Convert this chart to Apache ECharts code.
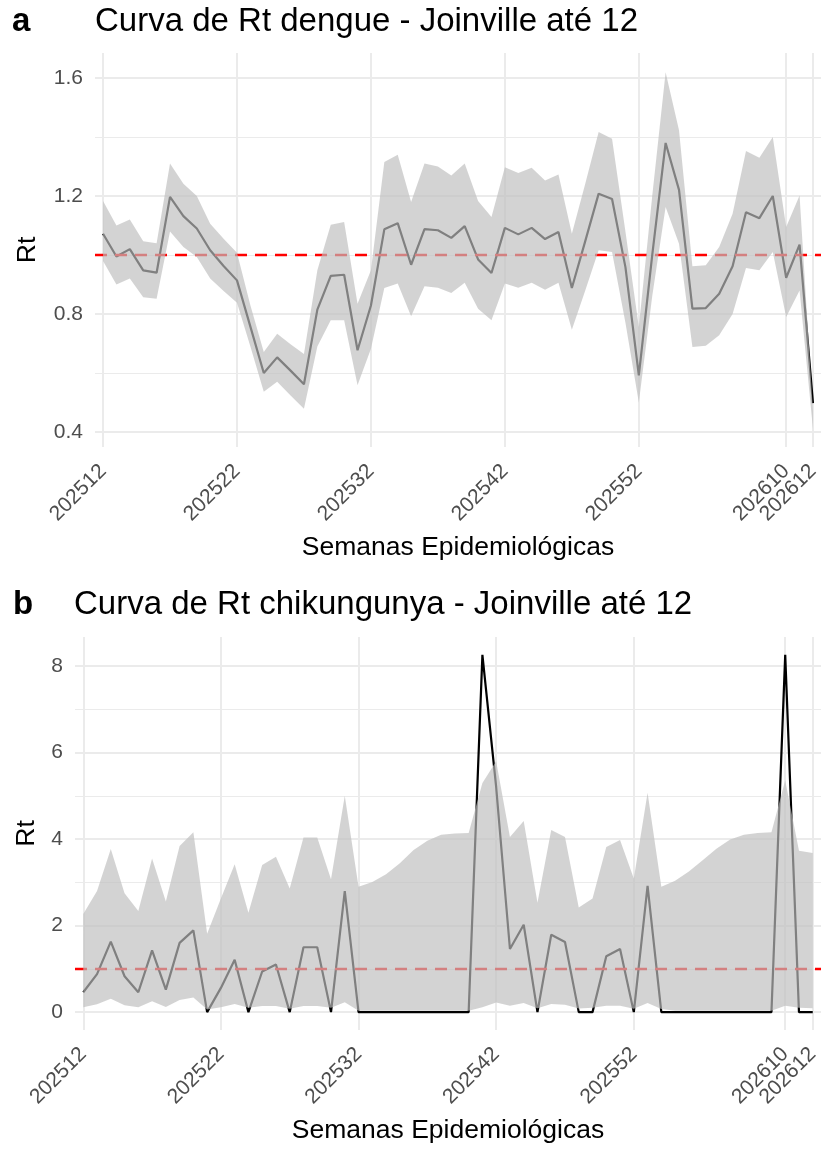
<!DOCTYPE html>
<html>
<head>
<meta charset="utf-8">
<script src="https://cdn.jsdelivr.net/npm/echarts@6/dist/echarts.min.js"></script>
<style>
  html, body { margin: 0; padding: 0; background: #fff; }
  #chart { width: 828px; height: 1149px; }
</style>
</head>
<body>
<div id="chart"></div>
<script>
// semanas epidemiológicas (eixo x)
const weeks = [
  '202512', '202513', '202514', '202515', '202516', '202517', '202518', '202519', '202520', '202521',
  '202522', '202523', '202524', '202525', '202526', '202527', '202528', '202529', '202530', '202531',
  '202532', '202533', '202534', '202535', '202536', '202537', '202538', '202539', '202540', '202541',
  '202542', '202543', '202544', '202545', '202546', '202547', '202548', '202549', '202550', '202551',
  '202552', '202553', '202601', '202602', '202603', '202604', '202605', '202606', '202607', '202608',
  '202609', '202610', '202611', '202612'
];
const tickWeeks = ['202512', '202522', '202532', '202542', '202552', '202610', '202612'];
// rótulo que se sobrepõe ao último; vai num eixo à parte para não ser escondido
const crowdedWeek = '202610';

// dengue
const dengueRt = [
  1.072, 0.995, 1.02, 0.948, 0.94, 1.197, 1.132, 1.09, 1.016, 0.963,
  0.914, 0.757, 0.60, 0.653, 0.608, 0.562, 0.815, 0.929, 0.933, 0.677,
  0.829, 1.087, 1.108, 0.967, 1.088, 1.084, 1.058, 1.098, 0.985, 0.939,
  1.092, 1.07, 1.092, 1.054, 1.078, 0.888, 1.047, 1.208, 1.19, 0.959,
  0.592, 1.0, 1.38, 1.221, 0.818, 0.82, 0.869, 0.962, 1.145, 1.125,
  1.20, 0.923, 1.035, 0.498
];
const dengueLower = [
  0.98, 0.90, 0.92, 0.857, 0.852, 1.08, 1.027, 0.993, 0.92, 0.878,
  0.838, 0.69, 0.536, 0.57, 0.524, 0.479, 0.69, 0.779, 0.779, 0.558,
  0.682, 0.888, 0.903, 0.792, 0.894, 0.889, 0.871, 0.906, 0.818, 0.779,
  0.903, 0.889, 0.906, 0.882, 0.906, 0.747, 0.88, 1.016, 1.01, 0.77,
  0.50, 0.86, 1.163, 1.038, 0.688, 0.692, 0.728, 0.80, 0.956, 0.948,
  1.01, 0.79, 0.88, 0.41
];
const dengueUpper = [
  1.183, 1.10, 1.12, 1.047, 1.04, 1.31, 1.242, 1.20, 1.106, 1.055,
  1.008, 0.83, 0.671, 0.733, 0.697, 0.664, 0.948, 1.103, 1.112, 0.835,
  0.948, 1.315, 1.34, 1.18, 1.31, 1.30, 1.27, 1.31, 1.183, 1.129,
  1.298, 1.278, 1.296, 1.253, 1.273, 1.072, 1.242, 1.417, 1.394, 1.08,
  0.756, 1.20, 1.62, 1.423, 0.962, 0.965, 1.027, 1.14, 1.353, 1.33,
  1.40, 1.095, 1.202, 0.47
];

// chikungunya
const chikRt = [
  0.46, 0.88, 1.63, 0.83, 0.46, 1.43, 0.52, 1.60, 1.89, 0,
  0.56, 1.21, 0, 0.94, 1.10, 0, 1.50, 1.50, 0, 2.80,
  0, 0, 0, 0, 0, 0, 0, 0, 0, 8.26,
  5.2, 1.46, 2.02, 0, 1.79, 1.62, 0, 0, 1.29, 1.46,
  0, 2.92, 0, 0, 0, 0, 0, 0, 0, 0,
  0, 8.26, 0, 0
];
const chikLower = [
  0.115, 0.18, 0.31, 0.16, 0.115, 0.25, 0.12, 0.28, 0.34, 0.06,
  0.115, 0.19, 0.10, 0.14, 0.14, 0.08, 0.14, 0.14, 0.10, 0.23,
  0.03, 0.03, 0.03, 0.03, 0.03, 0.03, 0.03, 0.03, 0.03, 0.115,
  0.22, 0.15, 0.21, 0.09, 0.19, 0.17, 0.085, 0.10, 0.15, 0.15,
  0.08, 0.21, 0.07, 0.03, 0.03, 0.03, 0.03, 0.03, 0.03, 0.03,
  0.03, 0.15, 0.10, 0.09
];
const chikUpper = [
  2.27, 2.80, 3.77, 2.75, 2.34, 3.55, 2.56, 3.84, 4.16, 1.81,
  2.63, 3.42, 2.30, 3.40, 3.59, 2.86, 4.04, 4.04, 3.07, 5.0,
  2.90, 3.01, 3.19, 3.44, 3.75, 3.96, 4.10, 4.13, 4.14, 5.3,
  5.8, 4.05, 4.42, 2.53, 4.21, 4.05, 2.42, 2.63, 3.82, 3.98,
  3.09, 5.07, 2.90, 3.04, 3.25, 3.51, 3.78, 3.99, 4.10, 4.14,
  4.16, 5.36, 3.73, 3.68
];

const FONT = '"Liberation Sans", Arial, Helvetica, sans-serif';
const GRID_COLOR = '#ebebeb';
const RIBBON = 'rgba(190,190,190,0.675)';
const tickIdx = tickWeeks.map(w => weeks.indexOf(w));
const crowdedIdx = [weeks.indexOf(crowdedWeek)];
const mainLabelIdx = tickIdx.filter(i => i !== crowdedIdx[0]);

const pairs = arr => arr.map((v, i) => [i, v]);

const panels = [
  {
    tag: 'a', title: 'Curva de Rt dengue - Joinville até 12',
    rt: dengueRt, lo: dengueLower, hi: dengueUpper,
    grid: { left: 95, right: 7, top: 53, height: 394 },
    yMin: 0.349, yMax: 1.685,
    major: [0.4, 0.8, 1.2, 1.6], minor: [0.6, 1.0, 1.4],
    fmt: v => v.toFixed(1), yNameGap: 54, titleTop: 5, tagLeft: 12, titleLeft: 95
  },
  {
    tag: 'b', title: 'Curva de Rt chikungunya - Joinville até 12',
    rt: chikRt, lo: chikLower, hi: chikUpper,
    grid: { left: 75, right: 7, top: 637, height: 393 },
    yMin: -0.413, yMax: 8.673,
    major: [0, 2, 4, 6, 8], minor: [1, 3, 5, 7],
    fmt: v => String(v), yNameGap: 34, titleTop: 588, tagLeft: 13, titleLeft: 74
  }
];

const tickLabel = values => ({
  customValues: values,
  formatter: v => weeks[Math.round(v)],
  rotate: 45, margin: 21, hideOverlap: false,
  color: '#4d4d4d', fontSize: 21, fontFamily: FONT
});

const option = {
  animation: false,
  backgroundColor: '#ffffff',
  grid: [], xAxis: [], yAxis: [], series: [], graphic: []
};

panels.forEach((p, g) => {
  option.grid.push(p.grid);

  option.xAxis.push({
    type: 'value', gridIndex: g, position: 'bottom',
    min: -0.6, max: weeks.length - 1 + 0.6,
    axisLine: { show: false },
    axisTick: { show: false, customValues: tickIdx },
    axisLabel: tickLabel(mainLabelIdx),
    splitLine: { show: true, lineStyle: { color: GRID_COLOR, width: 2 } },
    name: 'Semanas Epidemiológicas', nameLocation: 'middle', nameGap: 87,
    nameTextStyle: { color: '#000', fontSize: 26.5, fontFamily: FONT }
  });
  option.xAxis.push({
    type: 'value', gridIndex: g, position: 'bottom',
    min: -0.6, max: weeks.length - 1 + 0.6,
    axisLine: { show: false },
    axisTick: { show: false, customValues: crowdedIdx },
    axisLabel: tickLabel(crowdedIdx),
    splitLine: { show: false }
  });

  // eixo principal
  option.yAxis.push({
    type: 'value', gridIndex: g, min: p.yMin, max: p.yMax,
    axisLine: { show: false },
    axisTick: { show: false, customValues: p.major },
    axisLabel: {
      customValues: p.major, formatter: p.fmt, margin: 12,
      color: '#4d4d4d', fontSize: 21, fontFamily: FONT
    },
    splitLine: { show: true, lineStyle: { color: GRID_COLOR, width: 2 } },
    name: 'Rt', nameLocation: 'middle', nameGap: p.yNameGap, nameRotate: 90,
    nameTextStyle: { color: '#000', fontSize: 26.5, fontFamily: FONT }
  });
  // linhas menores
  option.yAxis.push({
    type: 'value', gridIndex: g, min: p.yMin, max: p.yMax, position: 'left',
    axisLine: { show: false },
    axisTick: { show: false, customValues: p.minor },
    axisLabel: { show: false },
    splitLine: { show: true, lineStyle: { color: GRID_COLOR, width: 1 } }
  });

  const xi = g * 2;
  const yi = g * 2;
  option.series.push({
    type: 'line', xAxisIndex: xi, yAxisIndex: yi, z: 2,
    data: pairs(p.rt), symbol: 'none', silent: true,
    lineStyle: { color: '#000000', width: 2.2 },
    markLine: {
      silent: true, symbol: ['none', 'none'], label: { show: false },
      lineStyle: { color: '#ff0000', type: [12, 8], width: 2.4 },
      emphasis: { disabled: true },
      data: [{ yAxis: 1 }]
    }
  });
  // faixa do intervalo (desenhada por cima da linha)
  option.series.push({
    type: 'custom', xAxisIndex: xi, yAxisIndex: yi, z: 10, silent: true,
    data: p.hi.map((v, i) => [i, p.lo[i], v]),
    encode: { x: 0, y: [1, 2] },
    renderItem: (params, api) => {
      if (params.dataIndex !== 0) return null;
      const top = p.hi.map((v, i) => api.coord([i, v]));
      const bottom = p.lo.map((v, i) => api.coord([i, v])).reverse();
      return {
        type: 'polygon',
        shape: { points: top.concat(bottom) },
        style: { fill: RIBBON }
      };
    }
  });

  option.graphic.push({
    type: 'text', left: p.tagLeft, top: p.titleTop,
    style: { text: p.tag, font: 'bold 33px ' + FONT, fill: '#000' }
  });
  option.graphic.push({
    type: 'text', left: p.titleLeft, top: p.titleTop,
    style: { text: p.title, font: '33px ' + FONT, fill: '#000' }
  });
});

const chart = echarts.init(document.getElementById('chart'), null, { renderer: 'canvas' });
chart.setOption(option);
</script>
</body>
</html>
